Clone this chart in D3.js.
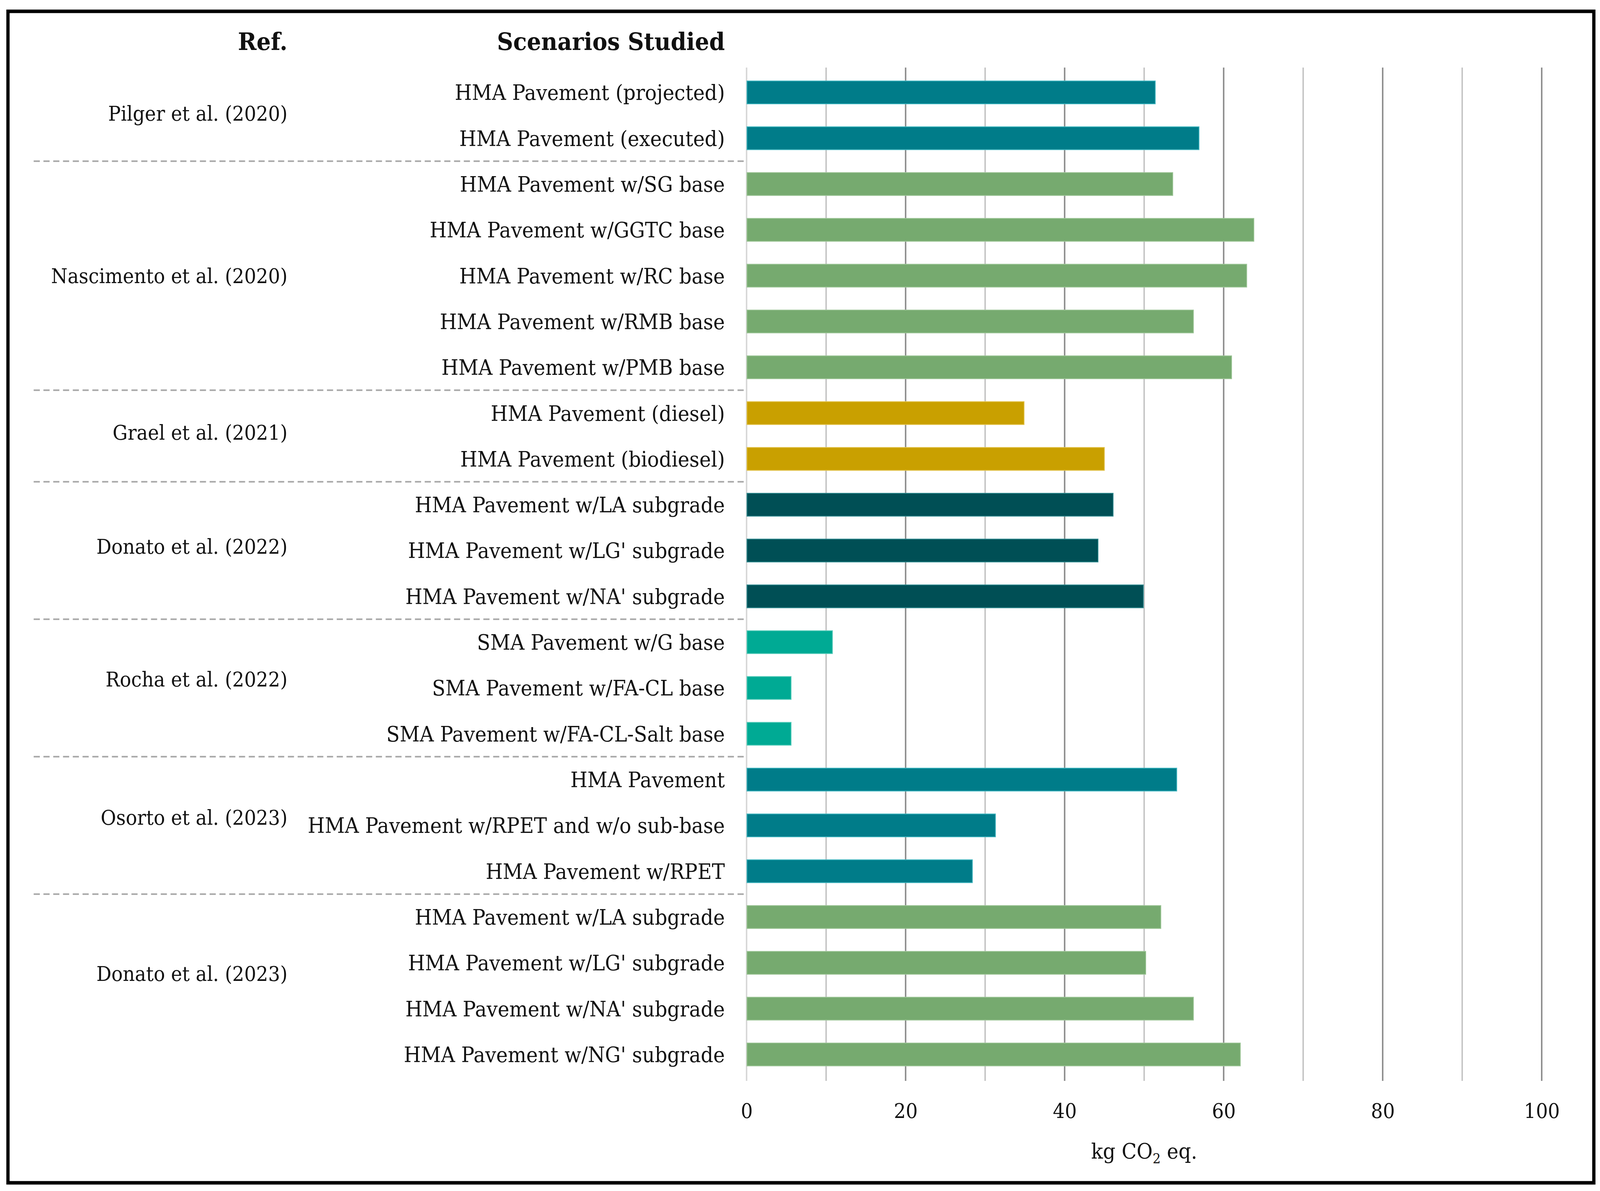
<!DOCTYPE html>
<html>
<head>
<meta charset="utf-8">
<script src="https://cdn.jsdelivr.net/npm/d3@7"></script>
<style>
  html, body { margin: 0; padding: 0; background: #fff; overflow: hidden; width: 100%; height: 100%; }
  svg { display: block; width: 100vw; height: 100vh; }
</style>
</head>
<body>
<svg id="chart" viewBox="0 0 4419 3050" preserveAspectRatio="none"></svg>
<script>
// ---------------- DATA ----------------
const refs = [
  "Pilger et al. (2020)",
  "Nascimento et al. (2020)",
  "Grael et al. (2021)",
  "Donato et al. (2022)",
  "Rocha et al. (2022)",
  "Osorto et al. (2023)",
  "Donato et al. (2023)"
];
const scenarios = [
  "HMA Pavement (projected)",
  "HMA Pavement (executed)",
  "HMA Pavement w/SG base",
  "HMA Pavement w/GGTC base",
  "HMA Pavement w/RC base",
  "HMA Pavement w/RMB base",
  "HMA Pavement w/PMB base",
  "HMA Pavement (diesel)",
  "HMA Pavement (biodiesel)",
  "HMA Pavement w/LA subgrade",
  "HMA Pavement w/LG' subgrade",
  "HMA Pavement w/NA' subgrade",
  "SMA Pavement w/G base",
  "SMA Pavement w/FA-CL base",
  "SMA Pavement w/FA-CL-Salt base",
  "HMA Pavement",
  "HMA Pavement w/RPET and w/o sub-base",
  "HMA Pavement w/RPET",
  "HMA Pavement w/LA subgrade",
  "HMA Pavement w/LG' subgrade",
  "HMA Pavement w/NA' subgrade",
  "HMA Pavement w/NG' subgrade"
];
const refOfScenario = [0,0,1,1,1,1,1,2,2,3,3,3,4,4,4,5,5,5,6,6,6,6];
const values = [51.4, 56.9, 53.6, 63.8, 62.9, 56.2, 61.0, 34.9, 45.0, 46.1, 44.2, 49.9,
                10.8, 5.6, 5.6, 54.1, 31.3, 28.4, 52.1, 50.2, 56.2, 62.1];
const xTickValues = [0, 20, 40, 60, 80, 100];
const gridValues = [0, 10, 20, 30, 40, 50, 60, 70, 80, 90, 100];
const xTitle = ["kg CO", "2", " eq."];
const headers = ["Ref.", "Scenarios Studied"];

// ---------------- STYLE / LAYOUT ----------------
const groupColors = ["#007C89", "#76AA6F", "#C9A000", "#004F55", "#00AA94", "#007C89", "#76AA6F"];
const groupEdges  = ["#3FB5BF", "#9CC596", "#E2C24A", "#2E8A8F", "#5CCDBC", "#3FB5BF", "#9CC596"];
const refLabelNudge = [-5, 0, -9, -11, -23, -21, -31];
const FONT = "'DejaVu Serif', 'Liberation Serif', serif";
const TEXT = "#111";

const svg = d3.select("#chart");

const x = d3.scaleLinear().domain([0, 100]).range([2062, 4258]);
const y = d3.scaleBand()
  .domain(d3.range(scenarios.length))
  .range([178, 2759])
  .paddingInner(0.5)
  .paddingOuter(0.25);
const bw = y.bandwidth();
const gap = y.step() - bw;

// gridlines
const gridTop = y.range()[0] - 5, gridBot = y.range()[1] + 9;
svg.append("g").selectAll("line")
  .data(gridValues)
  .join("line")
  .attr("x1", d => x(d)).attr("x2", d => x(d))
  .attr("y1", gridTop).attr("y2", gridBot)
  .attr("stroke", d => d === 0 ? "#d6d6d6" : (d % 20 === 0 ? "#8a8a8a" : "#c4c4c4"))
  .attr("stroke-width", 4);

// bars
svg.append("g").selectAll("rect")
  .data(values)
  .join("rect")
  .attr("x", x(0) + 1)
  .attr("y", (d, i) => y(i))
  .attr("width", d => x(d) - x(0) - 1)
  .attr("height", bw)
  .attr("fill", (d, i) => groupColors[refOfScenario[i]])
  .attr("stroke", (d, i) => groupEdges[refOfScenario[i]])
  .attr("stroke-width", 2);

// scenario labels
svg.append("g").selectAll("text")
  .data(scenarios)
  .join("text")
  .attr("x", 2002)
  .attr("y", (d, i) => y(i) + bw / 2)
  .attr("dy", "0.364em")
  .attr("text-anchor", "end")
  .attr("font-family", FONT)
  .attr("font-size", 54)
  .attr("fill", TEXT)
  .text(d => d);

// dashed separators between reference groups
const sepIdx = d3.range(1, scenarios.length).filter(i => refOfScenario[i] !== refOfScenario[i - 1]);
svg.append("g").selectAll("line")
  .data(sepIdx)
  .join("line")
  .attr("x1", 93).attr("x2", x(0))
  .attr("y1", i => y(i) - gap / 2).attr("y2", i => y(i) - gap / 2)
  .attr("stroke", "#a8a8a8")
  .attr("stroke-width", 4)
  .attr("stroke-dasharray", "17,10");

// reference labels
svg.append("g").selectAll("text")
  .data(refs)
  .join("text")
  .attr("x", 794)
  .attr("y", (d, g) => {
    const idx = d3.range(scenarios.length).filter(i => refOfScenario[i] === g);
    const c = (y(idx[0]) + y(idx[idx.length - 1]) + bw) / 2;
    return c + refLabelNudge[g];
  })
  .attr("dy", "0.364em")
  .attr("text-anchor", "end")
  .attr("font-family", FONT)
  .attr("font-size", 52)
  .attr("fill", TEXT)
  .text(d => d);

// headers
svg.append("g").selectAll("text")
  .data(headers)
  .join("text")
  .attr("x", (d, i) => i === 0 ? 794 : 2002)
  .attr("y", 128)
  .attr("text-anchor", "end")
  .attr("font-family", FONT)
  .attr("font-weight", "bold")
  .attr("font-size", 62)
  .attr("fill", TEXT)
  .text(d => d);

// x axis tick labels
const xAxis = d3.axisBottom(x).tickValues(xTickValues).tickSize(0).tickPadding(26).tickFormat(d3.format("d"));
const ax = svg.append("g").attr("transform", "translate(0,2800)").call(xAxis);
ax.select(".domain").remove();
ax.selectAll("text")
  .attr("font-family", FONT)
  .attr("font-size", 52)
  .attr("fill", TEXT);

// axis title
const t = svg.append("text")
  .attr("x", x(50))
  .attr("y", 2967)
  .attr("text-anchor", "middle")
  .attr("font-family", FONT)
  .attr("font-size", 54)
  .attr("fill", TEXT);
t.append("tspan").text(xTitle[0]);
t.append("tspan").attr("font-size", 35).attr("dy", 12).text(xTitle[1]);
t.append("tspan").attr("dy", -12).text(xTitle[2]);

// frame
svg.append("rect")
  .attr("x", 22).attr("y", 29)
  .attr("width", 4380).attr("height", 3000)
  .attr("fill", "none")
  .attr("stroke", "#000")
  .attr("stroke-width", 9);
</script>
</body>
</html>
